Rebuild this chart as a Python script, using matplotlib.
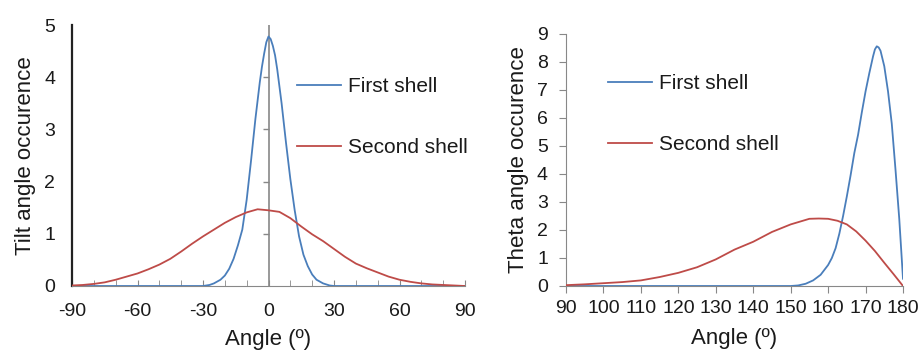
import numpy as np
import matplotlib
matplotlib.use("Agg")
import matplotlib.pyplot as plt

plt.rcParams['font.family'] = ['Liberation Sans', 'DejaVu Sans']
plt.rcParams['font.size'] = 14
plt.rcParams['axes.unicode_minus'] = False

# Tilt angle distribution (left panel)
tilt_first_x = [-90, -30, -27, -25, -22, -20, -18, -16, -14, -12, -10, -8, -6, -4, -3, -2, -1, 0,
                1, 2, 3, 4, 6, 8, 10, 12, 14, 16, 18, 20, 22, 25, 28, 30, 90]
tilt_first_y = [0, 0, 0.02, 0.05, 0.12, 0.2, 0.33, 0.52, 0.78, 1.08, 1.65, 2.4, 3.2, 3.9, 4.2, 4.45,
                4.67, 4.78, 4.73, 4.6, 4.42, 4.15, 3.5, 2.75, 2.05, 1.45, 0.95, 0.6, 0.38, 0.22, 0.12,
                0.05, 0.01, 0, 0]

tilt_second_x = [-90, -85, -80, -75, -70, -65, -60, -55, -50, -45, -40, -35, -30, -25, -20, -15,
                 -10, -5, 0, 5, 10, 15, 20, 25, 30, 35, 40, 45, 50, 55, 60, 65, 70, 75, 80, 85, 90]
tilt_second_y = [0.01, 0.02, 0.04, 0.07, 0.12, 0.18, 0.24, 0.32, 0.41, 0.52, 0.66, 0.81, 0.95, 1.08,
                 1.21, 1.32, 1.41, 1.47, 1.45, 1.42, 1.30, 1.14, 0.99, 0.86, 0.71, 0.56, 0.43, 0.34,
                 0.26, 0.18, 0.12, 0.08, 0.05, 0.03, 0.02, 0.01, 0.0]

# Theta angle distribution (right panel)
theta_first_x = [90, 150, 152, 154, 156, 158, 160, 161, 162, 163, 164, 165, 166, 167, 168, 169,
                 170, 171, 172, 172.5, 173, 173.5, 174, 175, 176, 177, 178, 179, 180]
theta_first_y = [0, 0, 0.02, 0.08, 0.2, 0.4, 0.75, 1.0, 1.35, 1.87, 2.5, 3.2, 3.95, 4.75, 5.4, 6.2,
                 6.95, 7.6, 8.2, 8.45, 8.56, 8.52, 8.4, 7.85, 6.95, 5.8, 4.15, 2.4, 0.26]

theta_second_x = [90, 95, 100, 105, 110, 115, 120, 125, 130, 135, 140, 145, 150, 155, 157.5, 160,
                  162.5, 165, 167.5, 170, 172.5, 175, 177.5, 180]
theta_second_y = [0.03, 0.06, 0.1, 0.14, 0.2, 0.32, 0.47, 0.67, 0.95, 1.3, 1.58, 1.93, 2.2, 2.4,
                  2.41, 2.4, 2.33, 2.2, 1.95, 1.62, 1.25, 0.83, 0.42, 0.0]

blue = '#4a7ebb'
red = '#be4b48'
text_col = '#1a1a1a'
label_size = 16
legend_size = 15

fig = plt.figure(figsize=(9.21, 3.52), dpi=100)

# ---- left panel ----
ax1 = fig.add_axes([72/921, 66/352, 393/921, 261/352])
ax1.plot(tilt_first_x, tilt_first_y, color=blue, lw=1.3, label='First shell', zorder=3)
ax1.plot(tilt_second_x, tilt_second_y, color=red, lw=1.3, label='Second shell', zorder=3)
ax1.set_xlim(-90, 90)
ax1.set_ylim(0, 5)
ax1.set_xticks([-90, -60, -30, 0, 30, 60, 90])
ax1.set_xticks(np.arange(-80, 90, 10), minor=True)
ax1.set_yticks([0, 1, 2, 3, 4, 5])
ax1.tick_params(axis='y', length=0, pad=12, colors=text_col)
ax1.tick_params(axis='x', which='both', direction='in', length=4, color='#888888',
                pad=12, labelcolor=text_col)
for s in ['top', 'right']:
    ax1.spines[s].set_visible(False)
ax1.spines['left'].set_color('#222222')
ax1.spines['left'].set_linewidth(1.6)
ax1.spines['bottom'].set_color('#888888')
# excel style vertical axis crossing at 0
ax1.axvline(0, color='#888888', lw=1.2, zorder=2)
ax1.plot([0] * 4, [1, 2, 3, 4], ls='none', marker=0, ms=4, mew=1, color='#888888', zorder=2)
ax1.set_xlabel('Angle (º)', color=text_col, fontsize=label_size, labelpad=7)
ax1.set_ylabel('Tilt angle occurence', color=text_col, fontsize=label_size, labelpad=6)
ax1.legend(loc='upper left', bbox_to_anchor=(287/921, 1 - 67/352), bbox_transform=fig.transFigure,
           frameon=False, handlelength=2.1, handletextpad=0.33, labelspacing=2.0,
           borderpad=0, labelcolor=text_col, fontsize=legend_size)

# ---- right panel ----
ax2 = fig.add_axes([566/921, 66/352, 337/921, 252/352])
ax2.plot(theta_first_x, theta_first_y, color=blue, lw=1.3, label='First shell', zorder=3)
ax2.plot(theta_second_x, theta_second_y, color=red, lw=1.3, label='Second shell', zorder=3)
ax2.set_xlim(90, 180)
ax2.set_ylim(0, 9)
ax2.set_xticks(np.arange(90, 181, 10))
ax2.set_yticks(np.arange(0, 10, 1))
ax2.tick_params(axis='both', direction='out', length=5, color='#888888', labelcolor=text_col)
ax2.tick_params(axis='y', pad=8)
ax2.tick_params(axis='x', pad=5)
for s in ['top', 'right']:
    ax2.spines[s].set_visible(False)
ax2.spines['left'].set_color('#888888')
ax2.spines['bottom'].set_color('#888888')
ax2.set_xlabel('Angle (º)', color=text_col, fontsize=label_size, labelpad=8)
ax2.set_ylabel('Theta angle occurence', color=text_col, fontsize=label_size, labelpad=6)
ax2.legend(loc='upper left', bbox_to_anchor=(598/921, 1 - 64/352), bbox_transform=fig.transFigure,
           frameon=False, handlelength=2.1, handletextpad=0.33, labelspacing=2.0,
           borderpad=0, labelcolor=text_col, fontsize=legend_size)

fig.savefig('out.png', dpi=100)
